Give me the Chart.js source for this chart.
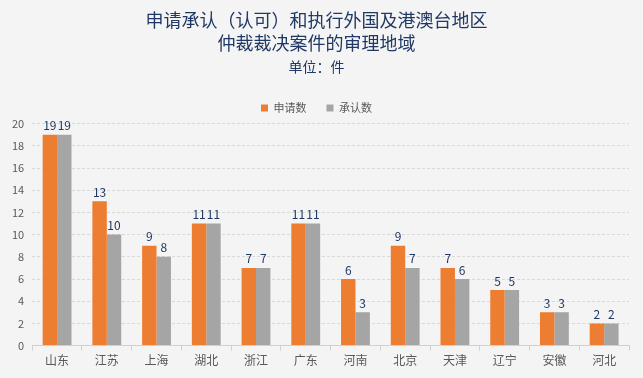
<!DOCTYPE html>
<html>
<head>
<meta charset="utf-8">
<script src="https://cdn.jsdelivr.net/npm/chart.js@4/dist/chart.umd.min.js"></script>
<style>
  html, body { margin: 0; padding: 0; background: #f4f4f4; }
  #wrap { width: 643px; height: 378px; position: relative; }
</style>
</head>
<body>
<div id="wrap"><canvas id="regionChart"></canvas></div>
<script>
  const regions = ['山东', '江苏', '上海', '湖北', '浙江', '广东', '河南', '北京', '天津', '辽宁', '安徽', '河北'];
  const applied = [19, 13, 9, 11, 7, 11, 6, 9, 7, 5, 3, 2];
  const recognized = [19, 10, 8, 11, 7, 11, 3, 7, 6, 5, 3, 2];

  const FONT = "'Noto Sans CJK SC', 'Noto Sans', sans-serif";

  // draw value labels above each bar
  const barLabels = {
    id: 'barLabels',
    afterDatasetsDraw(chart) {
      const ctx = chart.ctx;
      ctx.save();
      ctx.font = '12px ' + FONT;
      ctx.fillStyle = '#1f3864';
      ctx.textAlign = 'center';
      ctx.textBaseline = 'bottom';
      chart.data.datasets.forEach((ds, i) => {
        chart.getDatasetMeta(i).data.forEach((bar, j) => {
          ctx.fillText(ds.data[j], bar.x, bar.y - 3);
        });
      });
      ctx.restore();
    }
  };

  new Chart(document.getElementById('regionChart'), {
    type: 'bar',
    data: {
      labels: regions,
      datasets: [
        { label: '申请数', data: applied, backgroundColor: '#ed7d31' },
        { label: '承认数', data: recognized, backgroundColor: '#a5a5a5' }
      ]
    },
    options: {
      responsive: true,
      maintainAspectRatio: false,
      animation: false,
      layout: { padding: { left: 4, right: 14, top: 2, bottom: 7 } },
      datasets: { bar: { categoryPercentage: 0.58, barPercentage: 1.0 } },
      plugins: {
        title: {
          display: true,
          text: ['申请承认（认可）和执行外国及港澳台地区', '仲裁裁决案件的审理地域'],
          color: '#1f3864',
          font: { family: FONT, size: 18, weight: 'normal', lineHeight: 1.3 },
          padding: { top: 6, bottom: 0 }
        },
        subtitle: {
          display: true,
          text: '单位：件',
          color: '#1f3864',
          font: { family: FONT, size: 14, weight: 'normal' },
          padding: { top: 3, bottom: 8 }
        },
        legend: {
          display: true,
          labels: {
            color: '#595959',
            font: { family: FONT, size: 11 },
            boxWidth: 7,
            boxHeight: 7,
            padding: 20
          }
        },
        tooltip: { enabled: false }
      },
      scales: {
        x: {
          offset: true,
          grid: { display: true, drawOnChartArea: false, offset: true, tickLength: 5, color: '#d0d0d0' },
          border: { color: '#d0d0d0' },
          ticks: { color: '#595959', font: { family: FONT, size: 12 }, padding: 3 }
        },
        y: {
          min: 0,
          max: 20,
          ticks: { stepSize: 2, color: '#595959', font: { family: FONT, size: 11 }, padding: 8 },
          grid: { color: '#d9d9d9', drawTicks: false },
          border: { display: false, dash: [3, 2] }
        }
      }
    },
    plugins: [barLabels]
  });
</script>
</body>
</html>
